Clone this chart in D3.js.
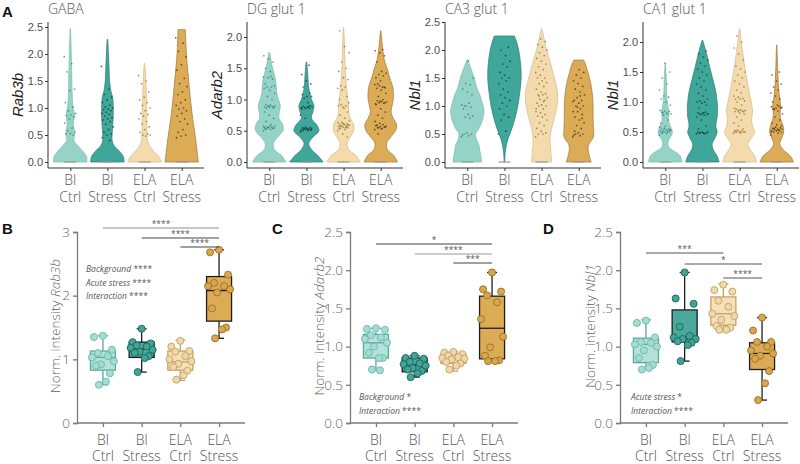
<!DOCTYPE html>
<html><head><meta charset="utf-8">
<script src="https://cdn.jsdelivr.net/npm/d3@7"></script>
<style>body{margin:0;background:#fff} svg{display:block}</style>
</head><body><svg id="c" width="800" height="464"></svg>
<script>
// ---------------- DATA ----------------
const groups = ["Bl Ctrl","Bl Stress","ELA Ctrl","ELA Stress"];
const groupLines = [["Bl","Ctrl"],["Bl","Stress"],["ELA","Ctrl"],["ELA","Stress"]];

const violinTitles = ["GABA","DG glut 1","CA3 glut 1","CA1 glut 1"];
const violinGenes = ["Rab3b","Adarb2","Nbl1","Nbl1"];
const violinTicks = [[0,0.5,1,1.5,2,2.5],[0,0.5,1,1.5,2],[0,0.5,1,1.5,2,2.5],[0,0.5,1,1.5,2]];

// density profiles: [value, relative half-width]
const densGABA = [
  [[0,1],[0.1,0.97],[0.2,0.75],[0.3,0.45],[0.4,0.22],[0.5,0.25],[0.6,0.24],[0.7,0.18],[0.8,0.22],[0.9,0.24],[1.0,0.17],[1.2,0.12],[1.4,0.1],[1.6,0.09],[1.8,0.07],[2.0,0.06],[2.2,0.04],[2.47,0.01]],
  [[0,1],[0.1,0.95],[0.2,0.72],[0.3,0.4],[0.4,0.28],[0.5,0.28],[0.6,0.3],[0.8,0.34],[1.0,0.35],[1.2,0.31],[1.3,0.22],[1.5,0.13],[1.8,0.09],[2.0,0.06],[2.27,0.02]],
  [[0,1],[0.1,0.85],[0.2,0.55],[0.3,0.3],[0.4,0.18],[0.5,0.16],[0.7,0.14],[0.9,0.14],[1.1,0.12],[1.3,0.1],[1.5,0.08],[1.7,0.05],[1.83,0.01]],
  [[0,1],[0.2,0.92],[0.5,0.8],[0.8,0.66],[1.0,0.58],[1.3,0.48],[1.5,0.42],[1.8,0.33],[2.0,0.28],[2.2,0.25],[2.45,0.22]]
];
const densDG = [
  [[0,1],[0.1,0.75],[0.2,0.3],[0.3,0.25],[0.4,0.5],[0.5,0.82],[0.6,0.8],[0.7,0.58],[0.8,0.6],[0.9,0.66],[1.0,0.55],[1.1,0.45],[1.2,0.42],[1.3,0.38],[1.4,0.3],[1.5,0.2],[1.6,0.12],[1.75,0.03]],
  [[0,1],[0.1,0.7],[0.2,0.3],[0.3,0.14],[0.4,0.4],[0.5,0.75],[0.6,0.6],[0.7,0.3],[0.8,0.38],[0.9,0.45],[1.0,0.3],[1.1,0.2],[1.2,0.13],[1.4,0.08],[1.6,0.02]],
  [[0,1],[0.1,0.75],[0.2,0.3],[0.3,0.22],[0.4,0.4],[0.5,0.6],[0.6,0.6],[0.7,0.4],[0.8,0.3],[0.9,0.3],[1.0,0.25],[1.2,0.18],[1.4,0.12],[1.7,0.07],[2.0,0.04],[2.15,0.01]],
  [[0,1],[0.1,0.8],[0.2,0.4],[0.3,0.35],[0.4,0.6],[0.5,0.88],[0.6,0.95],[0.7,0.75],[0.8,0.62],[0.9,0.68],[1.0,0.75],[1.1,0.76],[1.2,0.72],[1.3,0.6],[1.4,0.48],[1.5,0.38],[1.6,0.25],[1.8,0.12],[2.0,0.05],[2.1,0.01]]
];
const densCA3 = [
  [[0,0.85],[0.1,0.82],[0.2,0.75],[0.3,0.7],[0.4,0.55],[0.5,0.5],[0.6,0.7],[0.7,0.85],[0.8,0.95],[0.9,1.0],[1.0,0.95],[1.1,0.85],[1.2,0.75],[1.3,0.6],[1.4,0.5],[1.5,0.42],[1.6,0.3],[1.7,0.18],[1.8,0.05],[1.83,0.01]],
  [[0,0.02],[0.2,0.06],[0.4,0.2],[0.6,0.45],[0.8,0.65],[1.0,0.8],[1.2,0.9],[1.4,0.98],[1.6,1.0],[1.8,0.95],[2.0,0.85],[2.15,0.72],[2.25,0.6]],
  [[0,0.6],[0.2,0.55],[0.4,0.5],[0.6,0.6],[0.8,0.78],[1.0,0.92],[1.2,0.97],[1.4,0.85],[1.6,0.68],[1.8,0.5],[2.0,0.3],[2.2,0.15],[2.38,0.02]],
  [[0,0.75],[0.15,0.6],[0.3,0.58],[0.45,0.88],[0.6,0.88],[0.8,0.86],[1.0,0.86],[1.2,0.82],[1.4,0.72],[1.6,0.55],[1.75,0.4],[1.82,0.3]]
];
const densCA1 = [
  [[0,1],[0.1,0.9],[0.15,0.7],[0.25,0.2],[0.35,0.18],[0.45,0.38],[0.52,0.42],[0.6,0.3],[0.7,0.18],[0.8,0.22],[0.9,0.18],[1.0,0.12],[1.2,0.08],[1.4,0.06],[1.65,0.01]],
  [[0,1],[0.1,0.88],[0.2,0.65],[0.3,0.58],[0.4,0.75],[0.5,0.88],[0.6,0.8],[0.75,0.88],[0.9,0.9],[1.0,0.88],[1.2,0.78],[1.4,0.6],[1.6,0.42],[1.8,0.25],[1.95,0.1],[2.03,0.02]],
  [[0,1],[0.1,0.9],[0.2,0.65],[0.3,0.5],[0.4,0.72],[0.5,0.9],[0.6,0.78],[0.7,0.72],[0.85,0.78],[1.0,0.7],[1.2,0.55],[1.4,0.42],[1.6,0.3],[1.8,0.2],[2.0,0.1],[2.22,0.02]],
  [[0,1],[0.1,0.82],[0.2,0.4],[0.3,0.18],[0.4,0.3],[0.5,0.42],[0.6,0.38],[0.7,0.25],[0.8,0.2],[0.92,0.24],[1.05,0.18],[1.2,0.12],[1.4,0.08],[1.6,0.05],[1.8,0.03],[1.95,0.01]]
];

// single-cell expression dots
const dotsGABA = [
  [1.95,1.82,1.67,1.35,1.32,1.1,1.02,0.95,0.9,0.87,0.86,0.84,0.8,0.72,0.63,0.58,0.55,0.53,0.52,0.5],
  [1.77,1.35,1.25,1.2,1.15,1.1,1.05,1.02,1.0,0.98,0.97,0.95,0.92,0.9,0.88,0.85,0.82,0.8,0.78,0.75,0.7,0.65,0.6,0.55,0.52,0.5,0.45,0.4],
  [1.6,1.5,1.45,1.3,1.2,1.15,1.1,1.05,1.0,0.95,0.9,0.88,0.85,0.8,0.75,0.7,0.65,0.6,0.55,0.52,0.5,0.5,0.48],
  [2.3,2.2,2.05,1.95,1.8,1.7,1.55,1.45,1.4,1.3,1.25,1.15,1.1,1.05,1.0,0.98,0.95,0.9,0.85,0.8,0.75,0.7,0.6,0.55,0.5,0.48,0.45]
];
const dotsDG = [
  [0.5,0.52,0.53,0.54,0.55,0.55,0.56,0.56,0.57,0.58,0.53,0.54,0.55,0.57,0.6,0.86,0.87,0.88,0.88,0.89,0.9,0.9,0.91,0.92,0.87,0.89,1.18,1.2,1.2,1.22,1.15,1.25,1.33,1.35,1.36,1.37,0.65,0.7,0.75,0.8,1.0,1.05,1.1,1.45,1.5,1.6,1.65,1.7],
  [0.48,0.5,0.5,0.51,0.52,0.52,0.53,0.53,0.54,0.54,0.55,0.55,0.56,0.5,0.51,0.53,0.52,0.54,0.85,0.86,0.87,0.88,0.88,0.89,0.9,0.86,0.87,0.89,1.02,1.05,1.05,1.08,1.1,0.7,0.75,0.95,1.2,1.25,1.3,1.4,1.55],
  [0.5,0.52,0.54,0.55,0.56,0.57,0.58,0.58,0.59,0.6,0.6,0.61,0.62,0.63,0.55,0.57,0.59,0.61,0.53,0.56,0.64,0.66,0.7,0.75,0.8,0.88,0.9,0.9,0.92,0.95,0.86,1.0,1.05,1.15,1.18,1.2,1.22,1.32,1.35,1.45,1.5,1.6,1.75,1.85,2.1,0.4,0.45],
  [0.52,0.54,0.55,0.56,0.57,0.58,0.6,0.55,0.57,0.53,0.59,0.56,0.62,0.65,0.7,0.75,0.8,0.85,0.92,0.94,0.95,0.96,0.97,0.98,0.95,0.97,0.93,1.0,1.05,1.1,1.15,1.18,1.2,1.22,1.24,1.2,1.25,1.19,1.3,1.35,1.38,1.4,1.42,1.45,1.6,1.7,1.75,1.78,1.8,0.45]
];
const dotsCA3 = [
  [0.45,0.47,0.5,0.5,0.52,0.48,0.78,0.8,0.82,0.85,0.95,0.98,1.0,1.02,1.05,1.0,1.2,1.25,1.3,1.38,1.4,1.5,1.8],
  [0.5,0.55,0.75,0.8,0.85,0.95,1.0,1.05,1.1,1.15,1.2,1.25,1.3,1.4,1.45,1.5,1.5,1.55,1.6,1.7,1.75,1.8,1.9,2.0,2.05],
  [0.45,0.5,0.5,0.52,0.55,0.6,0.65,0.7,0.75,0.8,0.82,0.85,0.88,0.9,0.95,1.0,1.0,1.02,1.05,1.1,1.12,1.15,1.2,1.2,1.22,1.25,1.3,1.35,1.4,1.42,1.45,1.5,1.5,1.55,1.6,1.65,1.7,1.75,1.8,1.85,1.9,1.95,2.0,2.05,2.1,2.15,2.2,0.95,1.08,1.18],
  [0.45,0.47,0.5,0.5,0.52,0.48,0.6,0.65,0.7,0.75,0.8,0.85,0.9,0.9,0.95,1.0,1.0,1.05,1.1,1.1,1.15,1.2,1.25,1.3,1.35,1.4,1.45,1.5,1.55,1.6,1.65,0.55,0.78,0.98,1.08,1.18]
];
const dotsCA1 = [
  [0.45,0.47,0.48,0.5,0.5,0.51,0.52,0.52,0.53,0.54,0.55,0.55,0.56,0.58,0.5,0.49,0.53,0.6,0.65,0.7,0.78,0.8,0.82,0.83,0.84,0.85,0.86,0.8,0.82,0.95,1.0,1.05,1.08,1.1,1.2,1.3,1.4,1.5,1.65],
  [0.47,0.48,0.48,0.49,0.5,0.5,0.47,0.49,0.5,0.48,0.55,0.6,0.7,0.75,0.78,0.8,0.8,0.81,0.82,0.83,0.79,0.8,0.82,0.9,0.95,0.98,1.0,1.0,1.02,1.05,1.1,1.15,1.2,1.25,1.3,1.35,1.4,1.45,1.5,1.55,1.6,1.65,1.7,1.75,1.8,1.85],
  [0.48,0.49,0.5,0.5,0.51,0.52,0.52,0.53,0.5,0.49,0.51,0.55,0.6,0.65,0.7,0.75,0.8,0.82,0.84,0.85,0.85,0.86,0.87,0.88,0.84,0.86,0.9,0.95,1.0,1.02,1.05,1.05,1.06,1.08,1.1,1.15,1.2,1.25,1.3,1.35,1.4,1.45,1.5,1.55,1.6,1.7,1.8,1.9,2.0,2.1],
  [0.45,0.48,0.5,0.5,0.52,0.52,0.53,0.54,0.55,0.55,0.56,0.57,0.58,0.5,0.53,0.56,0.6,0.62,0.65,0.7,0.75,0.8,0.85,0.88,0.9,0.9,0.92,0.93,0.88,0.91,0.95,1.0,1.05,1.1,1.15,1.2,1.25,1.3,1.35,1.45,1.5]
];

// box plots: [min, q1, median, q3, max]
const boxTitles = ["B","C","D"];
const boxGenes = ["Rab3b","Adarb2","Nbl1"];
const boxTicks = [[0,1,2,3],[0,0.5,1,1.5,2,2.5],[0,0.5,1,1.5,2,2.5]];
const statsB = [[0.6,0.83,1.03,1.13,1.37],[0.8,1.03,1.16,1.27,1.48],[0.67,0.83,0.96,1.13,1.30],[1.33,1.60,2.08,2.30,2.72]];
const statsC = [[0.69,0.85,1.05,1.16,1.24],[0.60,0.67,0.76,0.85,0.88],[0.68,0.78,0.85,0.90,0.93],[0.81,0.84,1.24,1.66,1.97]];
const statsD = [[0.71,0.79,1.03,1.11,1.35],[0.81,1.06,1.10,1.48,1.97],[1.22,1.28,1.43,1.65,1.82],[0.30,0.70,0.91,1.05,1.38]];
const pointsB = [
  [1.37,1.35,1.15,1.1,1.05,1.03,0.97,0.92,0.9,0.78,0.65,0.6],
  [1.48,1.27,1.25,1.22,1.2,1.18,1.15,1.12,1.1,1.05,1.02,0.8],
  [1.29,1.2,1.13,1.12,1.05,1.0,0.97,0.93,0.88,0.82,0.75,0.68],
  [2.72,2.68,2.33,2.2,2.15,2.15,2.1,2.05,1.8,1.5,1.47,1.33]
];
const pointsC = [
  [1.24,1.23,1.22,1.15,1.12,1.1,1.05,1.0,0.92,0.85,0.85,0.7,0.69],
  [0.88,0.85,0.84,0.8,0.78,0.77,0.75,0.72,0.7,0.68,0.65,0.6],
  [0.93,0.92,0.9,0.88,0.86,0.85,0.84,0.83,0.8,0.78,0.75,0.7],
  [1.97,1.75,1.72,1.67,1.58,1.36,1.13,0.99,0.88,0.82,0.81,0.81]
];
const pointsD = [
  [1.34,1.31,1.12,1.06,1.05,1.03,1.0,0.95,0.85,0.76,0.72,0.7],
  [1.97,1.63,1.56,1.26,1.14,1.12,1.1,1.1,1.07,1.05,1.02,0.81],
  [1.81,1.74,1.72,1.6,1.52,1.43,1.4,1.35,1.27,1.25,1.22,1.22],
  [1.38,1.21,1.06,1.06,1.0,0.95,0.91,0.88,0.84,0.68,0.52,0.3]
];
// significance brackets: [from group, to group, label]
const sigB = [[0,3,"****"],[1,3,"****"],[2,3,"****"]];
const sigC = [[0,3,"*"],[1,3,"****"],[2,3,"***"]];
const sigD = [[0,2,"***"],[1,3,"*"],[2,3,"****"]];
const annB = [["Background","****"],["Acute stress","****"],["Interaction","****"]];
const annC = [["Background","*"],["Interaction","****"]];
const annD = [["Acute stress","*"],["Interaction","****"]];

// ---------------- STYLE ----------------
const vFill = ["#96d3c7","#3fa69a","#f3dbad","#dbab56"];
const vStroke = ["#78bcaf","#2c7c71","#d5ba86","#9d7935"];
const dotCol = ["#2c7b70","#13302c","#8d6b27","#3a2b11"];
const bFill = ["#b5e2d8","#4aa99c","#f5e0ba","#dcab55"];
const pFill = ["#a6dcd1","#40a497","#f1d8a8","#d9a64c"];
const pStroke = ["#6ebdb1","#1f6e64","#c9a76b","#9f772c"];
const bStroke = ["#5aa99d","#1e1e1e","#c4a064","#1e1e1e"];
const FONT = "'Open Sans', sans-serif";
const TFONT = "'Liberation Sans', Arial, sans-serif";

const svg = d3.select("#c");

function twoLine(g, x, y0, dy, lines, size) {
  const t = g.append("text").attr("text-anchor","middle").attr("font-family",FONT)
    .attr("font-weight",300).attr("font-size",size).attr("fill","#555");
  lines.forEach((s,j)=>t.append("tspan").attr("x",x).attr("y",y0+j*dy).text(s));
}

// ---------------- PANEL A ----------------
svg.append("text").attr("x",2).attr("y",17).attr("font-family",TFONT).attr("font-weight","bold").attr("font-size",15).attr("fill","#111").text("A");

const topAxisX = [48,247,445,643];
const topTopPx = [27,37,22,42];
const topW = 156;
const densAll = [densGABA,densDG,densCA3,densCA1];
const dotsAll = [dotsGABA,dotsDG,dotsCA3,dotsCA1];

violinTitles.forEach((title,p)=>{
  const ax = topAxisX[p];
  const ticks = violinTicks[p];
  const y = d3.scaleLinear().domain([0, ticks[ticks.length-1]]).range([162, topTopPx[p]]);
  const x = d3.scalePoint().domain(groups).range([ax, ax+topW]).padding(0.6);
  const g = svg.append("g");
  const half = x.step()*0.45;
  groups.forEach((grp,i)=>{
    const cx = x(grp);
    const area = d3.area().curve(d3.curveCatmullRom.alpha(0.5))
      .y(d=>y(d[0])).x0(d=>cx - d[1]*half).x1(d=>cx + d[1]*half);
    g.append("path").attr("d", area(densAll[p][i])).attr("fill", vFill[i])
      .attr("stroke", vStroke[i]).attr("stroke-width",0.7);
    g.append("line").attr("x1",cx-6).attr("x2",cx+6).attr("y1",y(0)).attr("y2",y(0))
      .attr("stroke","#9a9a9a").attr("stroke-width",1.2);
    g.selectAll(null).data(dotsAll[p][i]).enter().append("circle")
      .attr("cx",(d,k)=>cx + (((k*0.6180339)%1)-0.5)*12)
      .attr("cy",d=>y(d)).attr("r",0.85).attr("fill",dotCol[i]).attr("opacity",0.75);
  });
  // axes
  const ya = g.append("g").attr("transform",`translate(${ax},0)`)
    .call(d3.axisLeft(y).tickValues(ticks).tickFormat(d3.format(".1f")).tickSize(3).tickPadding(2));
  ya.select(".domain").remove();
  ya.selectAll("text").attr("font-family",TFONT).attr("font-size",11).attr("fill","#4d4d4d");
  ya.selectAll("line").attr("stroke","#333");
  const xa = g.append("g").attr("transform",`translate(0,168)`)
    .call(d3.axisBottom(x).tickSize(3).tickFormat(""));
  xa.select(".domain").remove();
  xa.selectAll("line").attr("stroke","#333");
  g.append("path").attr("d",`M${ax},22V168H${ax+topW}`).attr("fill","none").attr("stroke","#333").attr("stroke-width",1);
  groups.forEach((grp,i)=>twoLine(g, x(grp), 185, 16.5, groupLines[i], 14));
  g.append("text").attr("x",ax).attr("y",13.5).attr("font-family",FONT).attr("font-weight",300)
    .attr("font-size",14).attr("fill","#555").text(title);
  g.append("text").attr("transform",`translate(${ax-25},95) rotate(-90)`).attr("text-anchor","middle")
    .attr("font-family",TFONT).attr("font-style","italic").attr("font-size",15).attr("fill","#222").text(violinGenes[p]);
});

// ---------------- PANELS B, C, D ----------------
const botAxisX = [77,350,620];
const letterX = [2,272,543];
const labelX = [60,324,595];
const statsAll = [statsB,statsC,statsD];
const pointsAll = [pointsB,pointsC,pointsD];
const sigAll = [sigB,sigC,sigD];
const sigY = [[228,238,247],[244,254,263],[253,264,278]];
const sigCol = [["#8f8f8f","#444","#444"],["#444","#9a9a9a","#444"],["#555","#555","#555"]];
const annAll = [annB,annC,annD];
const annPos = [[86,272],[359,400],[631,400]];
const offs = [0,-9,9,-5,5,-11,11,-2,-7,7,3,-4,4];

boxTitles.forEach((L,p)=>{
  const ax = botAxisX[p];
  const ticks = boxTicks[p];
  const y = d3.scaleLinear().domain([0, ticks[ticks.length-1]]).range([423, 232]);
  const x = d3.scalePoint().domain(groups).range([ax, ax+168]).padding(0.67);
  const g = svg.append("g");
  svg.append("text").attr("x",letterX[p]).attr("y",234).attr("font-family",TFONT).attr("font-weight","bold")
    .attr("font-size",15).attr("fill","#111").text(L);
  // axes
  const ya = g.append("g").attr("transform",`translate(${ax},0)`)
    .call(d3.axisLeft(y).tickValues(ticks).tickFormat(p===0?d3.format("d"):d3.format(".1f")).tickSize(4).tickPadding(3));
  ya.select(".domain").attr("stroke","#7a7a7a").attr("stroke-width",1.3);
  ya.selectAll("line").attr("stroke","#7a7a7a").attr("stroke-width",1.3);
  ya.selectAll("text").attr("font-family",FONT).attr("font-weight",300).attr("font-size",13.5).attr("fill","#666");
  const xa = g.append("g").attr("transform",`translate(0,423)`)
    .call(d3.axisBottom(x).tickSize(4).tickSizeOuter(0).tickFormat(""));
  xa.select(".domain").attr("stroke","#7a7a7a").attr("stroke-width",1.3).attr("d",`M${ax},0H${ax+168}`);
  xa.selectAll("line").attr("stroke","#7a7a7a").attr("stroke-width",1.3);
  groups.forEach((grp,i)=>twoLine(g, x(grp), 445, 16, groupLines[i], 14));
  // y label
  const yl = g.append("text").attr("transform",`translate(${labelX[p]},326) rotate(-90)`).attr("text-anchor","middle")
    .attr("font-family",FONT).attr("font-weight",300).attr("font-size",13.5).attr("fill","#5f5f5f");
  yl.append("tspan").text("Norm. intensity ");
  yl.append("tspan").attr("font-style","italic").text(boxGenes[p]);
  // boxes
  const bw = 12.5, cw = 5;
  groups.forEach((grp,i)=>{
    const cx = x(grp);
    const s = statsAll[p][i];
    const st = bStroke[i];
    g.append("line").attr("x1",cx).attr("x2",cx).attr("y1",y(s[0])).attr("y2",y(s[1])).attr("stroke",st).attr("stroke-width",1.3);
    g.append("line").attr("x1",cx).attr("x2",cx).attr("y1",y(s[3])).attr("y2",y(s[4])).attr("stroke",st).attr("stroke-width",1.3);
    g.append("line").attr("x1",cx-cw).attr("x2",cx+cw).attr("y1",y(s[0])).attr("y2",y(s[0])).attr("stroke",st).attr("stroke-width",1.3);
    g.append("line").attr("x1",cx-cw).attr("x2",cx+cw).attr("y1",y(s[4])).attr("y2",y(s[4])).attr("stroke",st).attr("stroke-width",1.3);
    g.append("rect").attr("x",cx-bw).attr("width",2*bw).attr("y",y(s[3])).attr("height",y(s[1])-y(s[3]))
      .attr("fill",bFill[i]).attr("stroke",st).attr("stroke-width",1.3);
    g.append("line").attr("x1",cx-bw).attr("x2",cx+bw).attr("y1",y(s[2])).attr("y2",y(s[2])).attr("stroke",st).attr("stroke-width",1.3);
    g.selectAll(null).data(pointsAll[p][i]).enter().append("circle")
      .attr("cx",(d,k)=>cx+offs[k%offs.length]).attr("cy",d=>y(d)).attr("r",3.5)
      .attr("fill",pFill[i]).attr("stroke",pStroke[i]).attr("stroke-width",1);
  });
  // significance
  sigAll[p].forEach((sg,k)=>{
    const yy = sigY[p][k];
    const x1 = x(groups[sg[0]]), x2 = x(groups[sg[1]]);
    g.append("line").attr("x1",x1).attr("x2",x2).attr("y1",yy).attr("y2",yy).attr("stroke",sigCol[p][k]).attr("stroke-width",1.1);
    g.append("text").attr("x",(x1+x2)/2).attr("y",yy-1.5).attr("text-anchor","middle")
      .attr("font-family",FONT).attr("font-size",8.5).attr("fill","#555").text(sg[2]);
  });
  // annotations
  annAll[p].forEach((a,k)=>{
    const t = g.append("text").attr("x",annPos[p][0]).attr("y",annPos[p][1]+k*13.5)
      .attr("font-family",FONT).attr("font-size",8.5).attr("fill","#555");
    t.append("tspan").attr("font-style","italic").text(a[0]+" ");
    t.append("tspan").text(a[1]);
  });
});
</script></body></html>
